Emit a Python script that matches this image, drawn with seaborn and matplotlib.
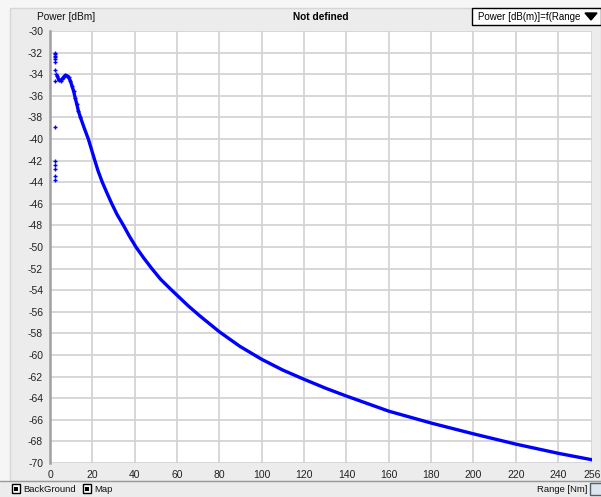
import matplotlib
matplotlib.use("Agg")
import matplotlib.pyplot as plt
import seaborn as sns
import pandas as pd
from matplotlib.patches import Rectangle, Polygon

# ---- data ----
curve_range = [3.4, 4.2, 5.0, 5.7, 6.5, 7.3, 8.1, 8.8, 9.6, 10.4, 11.2, 11.9, 12.7,
               13.4, 14.4, 16.1, 18.1, 19.5, 21.1, 22.7, 24.7, 26.9, 29.2, 31.7,
               34.7, 37.5, 40.6, 44.2, 48.1, 52.3, 57.5, 65.3, 70.9, 80, 89.7, 100,
               110, 120, 130.5, 140, 160, 180, 200, 220, 240, 256]
curve_power = [-34.15, -34.55, -34.6, -34.45, -34.25, -34.1, -34.15, -34.3, -34.6,
               -35.1, -35.6, -36.2, -36.8, -37.4, -38.0, -38.95, -40.0, -40.9, -41.95,
               -42.95, -44.0, -45.0, -46.0, -47.0, -48.0, -49.0, -50.0, -51.0, -52.0,
               -53.0, -54.0, -55.45, -56.4, -57.85, -59.2, -60.4, -61.4, -62.25,
               -63.1, -63.8, -65.2, -66.3, -67.3, -68.25, -69.1, -69.7]
outlier_range = [2.4, 2.4, 2.4, 2.4, 2.4, 2.5, 2.5, 2.6, 2.2, 2.2, 2.2, 2.2, 2.2, 2.2, 2.2]
outlier_power = [-32.0, -32.15, -32.3, -32.45, -32.6, -32.9, -33.6, -34.0, -34.6,
                 -38.9, -42.05, -42.4, -42.8, -43.4, -43.8]
x_ticks = [0, 20, 40, 60, 80, 100, 120, 140, 160, 180, 200, 220, 240, 256]
y_ticks = [-30, -32, -34, -36, -38, -40, -42, -44, -46, -48, -50, -52, -54, -56,
           -58, -60, -62, -64, -66, -68, -70]
y_label = "Power [dBm]"
x_label = "Range [Nm]"
title = "Not defined"
selector = "Power [dB(m)]=f(Range"

sns.set_style("white")
plt.rcParams['font.family'] = ['Liberation Sans', 'DejaVu Sans']
plt.rcParams['axes.unicode_minus'] = False

W, H = 601, 497
fig = plt.figure(figsize=(W / 100, H / 100), dpi=100)
fig.patch.set_facecolor('#f6f6f6')

def fx(px):
    return px / W

def fy(py):
    return 1 - py / H

# panel background
fig.add_artist(Rectangle((fx(10), fy(481)), fx(601 - 10), (481 - 8) / H,
                         transform=fig.transFigure, facecolor='#ececec',
                         edgecolor='#d6d6d6', lw=1, zorder=-5))
# bottom bar
fig.add_artist(Rectangle((0, 0), 1, 16 / H, transform=fig.transFigure,
                         facecolor='#ececec', edgecolor='none', zorder=-5))
fig.add_artist(plt.Line2D([0, 1], [fy(481), fy(481)], transform=fig.transFigure,
                          color='#9a9a9a', lw=1, zorder=-4))

ax = fig.add_axes([fx(50), fy(463), fx(592 - 50), (463 - 31) / H])
ax.set_facecolor('white')

df_curve = pd.DataFrame({'range': curve_range, 'power': curve_power})
df_out = pd.DataFrame({'range': outlier_range, 'power': outlier_power})
sns.lineplot(data=df_curve, x='range', y='power', ax=ax, color='#0000ff', lw=2.4,
             sort=False, zorder=3)
sns.scatterplot(data=df_curve[df_curve['range'] < 15], x='range', y='power', ax=ax,
                color='#0000ff', marker='+', s=10, linewidth=1, zorder=4)
sns.scatterplot(data=df_out, x='range', y='power', ax=ax, color='#0000ff',
                marker='+', s=10, linewidth=1, zorder=4)

ax.set_xlim(0, 256)
ax.set_ylim(-70, -30)
ax.set_xticks(x_ticks)
ax.set_xticklabels([str(v) for v in x_ticks])
ax.set_yticks(y_ticks)
ax.set_yticklabels([str(v) for v in y_ticks])
ax.set_xlabel('')
ax.set_ylabel('')
ax.grid(True, color='#d4d4d4', lw=1.3)
ax.set_axisbelow(True)
for s in ['top', 'right']:
    ax.spines[s].set_visible(False)
ax.spines['bottom'].set_visible(False)
ax.spines['left'].set_color('#a0a0a0')
ax.spines['left'].set_linewidth(1.8)
ax.tick_params(axis='both', which='both', direction='out', length=4, width=1,
               colors='#222222', labelsize=7.5, pad=1)
ax.tick_params(axis='x', pad=1)

# header texts
fig.text(fx(37), fy(17), y_label, fontsize=7.3, va='center', ha='left', color='#111111')
fig.text(fx(321), fy(17), title, fontsize=7.3, va='center', ha='center',
         fontweight='bold', color='#000000')
fig.add_artist(Rectangle((fx(472), fy(25)), fx(601 - 472), 17 / H,
                         transform=fig.transFigure, facecolor='white',
                         edgecolor='black', lw=1))
fig.text(fx(478), fy(16.5), selector, fontsize=7, va='center', ha='left', color='#000000')
fig.add_artist(Polygon([(fx(585), fy(13)), (fx(597), fy(13)), (fx(591), fy(20))],
                       closed=True, transform=fig.transFigure, facecolor='black',
                       edgecolor='black'))

# bottom bar items
for bx, label in [(12, 'BackGround'), (83, 'Map')]:
    fig.add_artist(Rectangle((fx(bx), fy(493)), fx(8), 9 / H, transform=fig.transFigure,
                             facecolor='white', edgecolor='black', lw=1))
    fig.add_artist(Rectangle((fx(bx + 2), fy(490.5)), fx(4), 4 / H,
                             transform=fig.transFigure, facecolor='black',
                             edgecolor='none'))
    fig.text(fx(bx + 11), fy(489), label, fontsize=6.8, va='center', ha='left',
             color='#111111')
fig.text(fx(587), fy(489), x_label, fontsize=6.8, va='center', ha='right', color='#111111')
fig.add_artist(Rectangle((fx(590), fy(495)), fx(12), 12 / H, transform=fig.transFigure,
                         facecolor='#dde6f0', edgecolor='#506070', lw=1))

fig.savefig('out.png', dpi=100, facecolor=fig.get_facecolor())
